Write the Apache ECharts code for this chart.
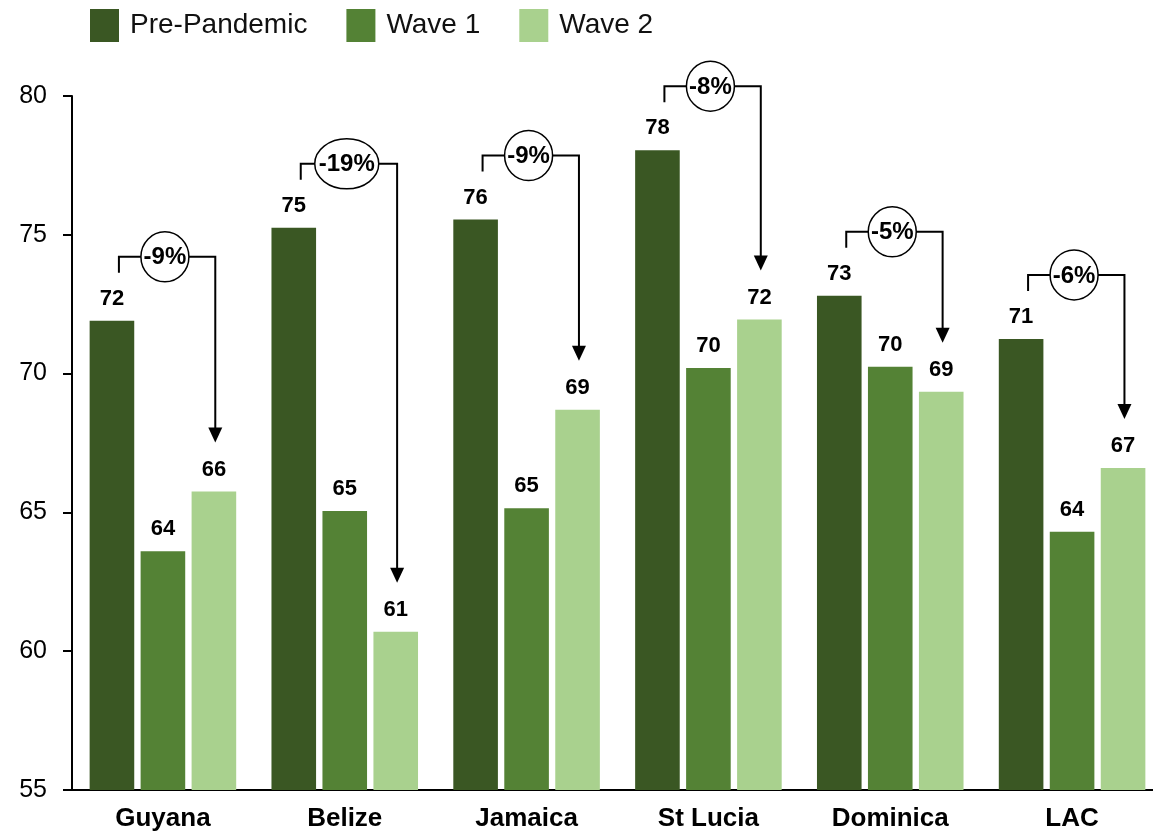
<!DOCTYPE html>
<html>
<head>
<meta charset="utf-8">
<title>Pre-Pandemic vs Wave 1 vs Wave 2</title>
<script src="https://cdn.jsdelivr.net/npm/echarts@6/dist/echarts.min.js"></script>
<style>
  html, body { margin: 0; padding: 0; background: #fff; }
  #chart { width: 1153px; height: 834px; }
</style>
</head>
<body>
<div id="chart"></div>
<script>
// Countries / regions on the x axis
const categories = ['Guyana', 'Belize', 'Jamaica', 'St Lucia', 'Dominica', 'LAC'];

// Series values
const prePandemic = [71.9, 75.25, 75.55, 78.05, 72.8, 71.25];
const wave1 = [63.6, 65.05, 65.15, 70.2, 70.25, 64.3];
const wave2 = [65.75, 60.7, 68.7, 71.95, 69.35, 66.6];

// Change from pre-pandemic to wave 2, shown in the bracket bubbles
const changeLabels = ['-9%', '-19%', '-9%', '-8%', '-5%', '-6%'];

// Y axis ticks
const yMin = 55, yMax = 80, yStep = 5;

const seriesNames = ['Pre-Pandemic', 'Wave 1', 'Wave 2'];
const colors = ['#3A5723', '#548235', '#A9D18E'];

const FONT = '"Liberation Sans", Arial, sans-serif';

const chart = echarts.init(document.getElementById('chart'), null, { renderer: 'canvas' });

function barSeries(name, values, color) {
  return {
    name: name,
    type: 'bar',
    data: values,
    barWidth: 44.6,
    barGap: '14.3%',
    itemStyle: { color: color },
    label: {
      show: true,
      position: 'top',
      distance: 11,
      formatter: p => Math.round(p.value),
      fontFamily: FONT,
      fontWeight: 'bold',
      fontSize: 22,
      color: '#000'
    },
    emphasis: { disabled: true },
    animation: false
  };
}

// Bracket arrows from the pre-pandemic bar to the wave 2 bar
function renderBracket(params, api) {
  const c = api.value(0);
  const top = api.coord([c, api.value(1)]);
  const end = api.coord([c, api.value(2)]);
  const band = api.size([1, 0])[0];
  const cx = top[0];
  const xl = cx - band * 0.242;
  const xr = cx + band * 0.288;
  const xe = cx + band * 0.011;
  const hy = top[1] - 64;
  const tipY = end[1] - 49;
  const text = changeLabels[params.dataIndex];
  const rx = text.length > 3 ? 32 : 24;
  return {
    type: 'group',
    children: [
      {
        type: 'polyline',
        shape: { points: [[xl, hy + 16], [xl, hy], [xr, hy], [xr, tipY - 13]] },
        style: { stroke: '#000', lineWidth: 2, fill: 'none' }
      },
      {
        type: 'polygon',
        shape: { points: [[xr - 7, tipY - 15], [xr + 7, tipY - 15], [xr, tipY]] },
        style: { fill: '#000' }
      },
      {
        type: 'ellipse',
        shape: { cx: xe, cy: hy, rx: rx, ry: 25 },
        style: { fill: '#fff', stroke: '#000', lineWidth: 1.5 }
      },
      {
        type: 'text',
        x: xe,
        y: hy + 1,
        style: {
          text: text,
          font: 'bold 24px ' + FONT,
          fill: '#000',
          align: 'center',
          verticalAlign: 'middle'
        }
      }
    ]
  };
}

const option = {
  backgroundColor: '#fff',
  animation: false,
  legend: {
    data: seriesNames,
    left: 85,
    top: 4,
    itemWidth: 29,
    itemHeight: 33,
    itemGap: 39,
    icon: 'rect',
    textStyle: {
      fontFamily: FONT,
      fontSize: 28,
      color: '#111',
      padding: [0, 0, 0, 6]
    },
    selectedMode: false
  },
  grid: {
    left: 72,
    width: 1091,
    top: 96,
    bottom: 44,
    containLabel: false,
    outerBoundsMode: 'none'
  },
  xAxis: {
    type: 'category',
    data: categories,
    axisLine: { show: true, lineStyle: { color: '#000', width: 2 } },
    axisTick: { show: false },
    axisLabel: {
      margin: 16,
      fontFamily: FONT,
      fontWeight: 'bold',
      fontSize: 26,
      color: '#000'
    },
    splitLine: { show: false }
  },
  yAxis: {
    type: 'value',
    min: yMin,
    max: yMax,
    interval: yStep,
    axisLine: { show: true, lineStyle: { color: '#000', width: 2 } },
    axisTick: { show: true, inside: false, length: 9, lineStyle: { color: '#000', width: 2 } },
    axisLabel: {
      margin: 25,
      fontFamily: FONT,
      fontSize: 25,
      color: '#000'
    },
    splitLine: { show: false }
  },
  series: [
    barSeries(seriesNames[0], prePandemic, colors[0]),
    barSeries(seriesNames[1], wave1, colors[1]),
    barSeries(seriesNames[2], wave2, colors[2]),
    {
      name: 'change',
      type: 'custom',
      renderItem: renderBracket,
      clip: false,
      z: 10,
      silent: true,
      encode: { x: 0, y: 1 },
      data: prePandemic.map((v, i) => [i, v, wave2[i]])
    }
  ]
};

chart.setOption(option);
</script>
</body>
</html>
